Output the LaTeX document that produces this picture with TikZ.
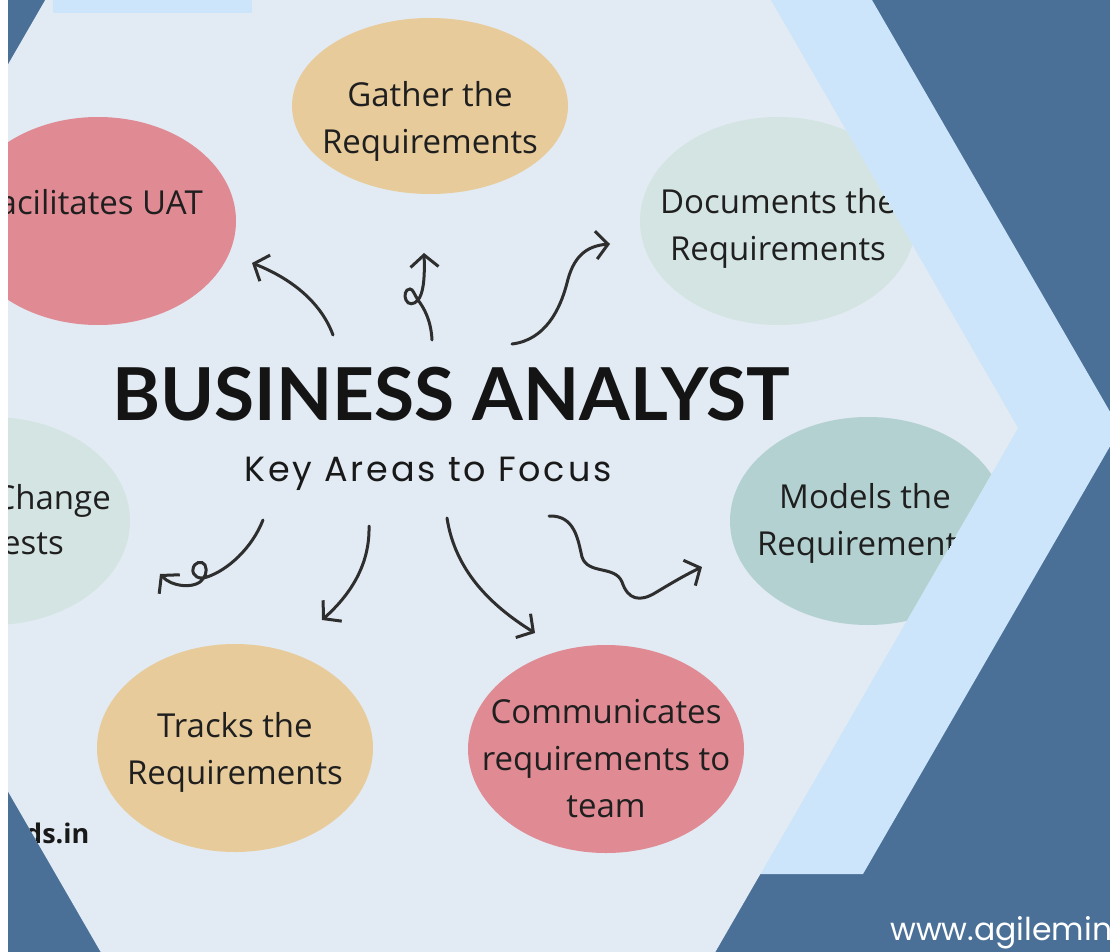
\documentclass[tikz,border=0pt]{standalone}
\usepackage{fontspec}
\setmainfont{Open Sans}
\newfontfamily\titlefont{Lato}
\newfontfamily\handfont{Poppins}[LetterSpace=8]
\newfontfamily\webfont{Poppins}
\usetikzlibrary{shapes.geometric, arrows.meta}

\definecolor{bgblue}{HTML}{4A7097}
\definecolor{bandblue}{HTML}{CCE5FA}
\definecolor{paleblue}{HTML}{E2EBF3}
\definecolor{rosepink}{HTML}{E08A93}
\definecolor{sandtan}{HTML}{E8CB9B}
\definecolor{mintgrey}{HTML}{D3E4E2}
\definecolor{seateal}{HTML}{B3D1D0}
\definecolor{inkgrey}{HTML}{2E2E2E}

\begin{document}
\begin{tikzpicture}[x=1pt, y=-1pt]
  \tikzstyle{bubble}=[ellipse, minimum width=276pt, minimum height=208pt, inner sep=0pt]
  \tikzstyle{bubbletext}=[inner sep=0pt, align=center, font=\fontsize{33}{47}\selectfont, text=black!88]
  \tikzstyle{arr}=[draw=inkgrey, line width=3pt, line cap=round, -{Straight Barb[length=12pt, width=28pt]}]
  \useasboundingbox (0,0) rectangle (1110,952);
  \fill[white] (0,0) rectangle (1110,952);
  \clip (8,0) rectangle (1110,952);

  % background, chevron band and pale hexagon
  \fill[bgblue] (8,0) rectangle (1110,952);
  \fill[bandblue] (600,0) -- (872,0) -- (1120,429) -- (863,874) -- (600,874) -- cycle;
  \fill[paleblue] (1018,428) -- (713,-100) -- (103,-100) -- (-202,428) -- (103,956) -- (713,956) -- cycle;
  \fill[bandblue] (53,0) rectangle (252,13);

  \begin{scope}
    \clip (1018,428) -- (713,-100) -- (103,-100) -- (-202,428) -- (103,956) -- (713,956) -- cycle;
    \node[bubble, fill=sandtan, minimum height=176pt] (BA_gather) at (430,106) {};
    \node[bubble, fill=rosepink] (BA_uat) at (98,221) {};
    \node[bubble, fill=mintgrey] (BA_docs) at (778,221) {};
    \node[bubble, fill=mintgrey] (BA_change) at (-8,521) {};
    \node[bubble, fill=seateal] (BA_models) at (868,521) {};
    \node[bubble, fill=sandtan] (BA_tracks) at (235,748) {};
    \node[bubble, fill=rosepink] (BA_comm) at (606,749) {};

    \node[bubbletext] (BA_gather_txt) at (430,121) {Gather the\\Requirements};
    \node[bubbletext, anchor=base east] (BA_uat_txt) at (203,214) {acilitates UAT};
    \node[bubbletext] (BA_docs_txt) at (778,228) {Documents the\\Requirements};
    \node[bubbletext, anchor=base east] (BA_change_a) at (111,509) {Change};
    \node[bubbletext, anchor=base east] (BA_change_b) at (64,554) {ests};
    \node[bubbletext] (BA_models_txt) at (865,523) {Models the\\Requirements};
    \node[bubbletext] (BA_tracks_txt) at (235,752) {Tracks the\\Requirements};
    \node[bubbletext] (BA_comm_txt) at (606,759) {Communicates\\requirements to\\team};
    \node[inner sep=0pt, anchor=base west, font=\bfseries\fontsize{27}{30}\selectfont, text=black!90] (BA_site) at (25,843) {ds.in};
  \end{scope}

  \node[font=\titlefont\bfseries\fontsize{73}{80}\selectfont, text=black!92] (BA_title) at (451,394) {BUSINESS ANALYST};
  \node[font=\handfont\fontsize{35}{40}\selectfont, text=black!90] (BA_sub) at (428,474) {Key Areas to Focus};

  % arrow ends
  \coordinate (a_1s) at (333,335);  \coordinate (a_1e) at (252,263);
  \coordinate (a_2s) at (432,340);  \coordinate (a_2e) at (424,253);
  \coordinate (a_3s) at (512,344);  \coordinate (a_3e) at (610,244);
  \coordinate (a_4s) at (263,520);  \coordinate (a_4e) at (160,574);
  \coordinate (a_5s) at (369,526);  \coordinate (a_5e) at (322,620);
  \coordinate (a_6s) at (447,518);  \coordinate (a_6e) at (535,633);
  \coordinate (a_7s) at (549,516);  \coordinate (a_7e) at (702,567);

  \draw[arr] (a_1s) .. controls (322,305) and (295,280) .. (a_1e);
  \draw[arr] (a_2s) .. controls (431,320) and (424,308) .. (418,300)
    .. controls (414,294) and (413,289) .. (410,289)
    .. controls (405,289) and (404,296) .. (406,300)
    .. controls (408,305) and (414,305) .. (418,300)
    .. controls (423,294) and (425,280) .. (a_2e);
  \draw[arr] (a_3s) .. controls (545,340) and (560,310) .. (567,283)
    .. controls (573,258) and (585,246) .. (a_3e);
  \draw[arr] (a_4s) .. controls (252,548) and (228,570) .. (207,577)
    .. controls (199,580) and (192,576) .. (193,569)
    .. controls (194,562) and (202,560) .. (205,565)
    .. controls (208,571) and (205,578) .. (200,582)
    .. controls (192,588) and (172,587) .. (a_4e);
  \draw[arr] (a_5s) .. controls (370,565) and (350,595) .. (a_5e);
  \draw[arr] (a_6s) .. controls (455,570) and (490,605) .. (a_6e);
  \draw[arr] (a_7s) .. controls (575,515) and (578,540) .. (582,557)
    .. controls (588,575) and (615,565) .. (622,582)
    .. controls (628,600) and (640,602) .. (655,593)
    .. controls (670,584) and (685,575) .. (a_7e);

  \node[inner sep=0pt, anchor=base west, font=\webfont\fontsize{31.5}{36}\selectfont, text=white] (BA_web) at (890,940) {www.agilemin};
\end{tikzpicture}
\end{document}
